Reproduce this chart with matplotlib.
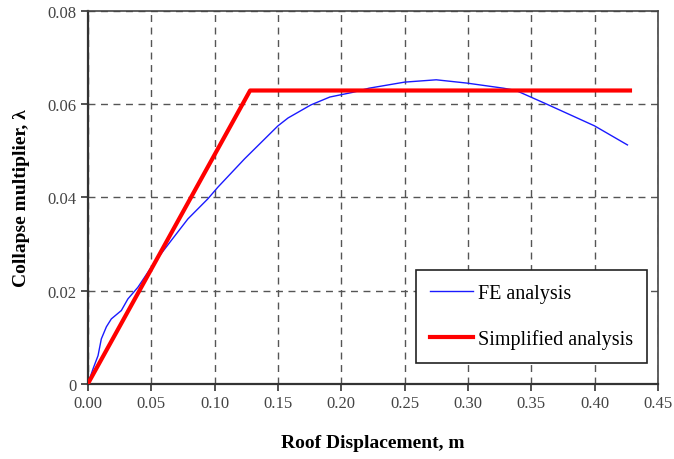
import numpy as np
import matplotlib.pyplot as plt
from matplotlib.ticker import FuncFormatter

# FE analysis curve
fe_x = [0.0, 0.004, 0.0079, 0.0105, 0.0145, 0.0184, 0.0263, 0.0315, 0.0394, 0.0526,
        0.0650, 0.0789, 0.0946, 0.1025, 0.1236, 0.150, 0.158, 0.176, 0.191, 0.209,
        0.222, 0.250, 0.275, 0.299, 0.328, 0.338, 0.362, 0.400, 0.426]
fe_y = [0.0, 0.0032, 0.0060, 0.0096, 0.0122, 0.0139, 0.0157, 0.0182, 0.0207, 0.0261,
        0.0305, 0.0354, 0.0397, 0.0422, 0.0483, 0.0554, 0.0571, 0.0599, 0.0616, 0.0626,
        0.0635, 0.0648, 0.0653, 0.0646, 0.0635, 0.0630, 0.0601, 0.0554, 0.0513]

# simplified (bilinear) analysis
simp_x = [0.0, 0.128, 0.428]
simp_y = [0.0, 0.063, 0.063]

xticks = [0.0, 0.05, 0.10, 0.15, 0.20, 0.25, 0.30, 0.35, 0.40, 0.45]
yticks = [0.0, 0.02, 0.04, 0.06, 0.08]

plt.rcParams['font.family'] = ['Liberation Serif', 'DejaVu Serif']

fig = plt.figure(figsize=(6.74, 4.60), dpi=100)
ax = fig.add_axes([0.1306, 0.164, 0.8454, 0.809])

ax.plot(fe_x, fe_y, color='#1a1aff', lw=1.0, label='FE analysis', zorder=3)
ax.plot(simp_x, simp_y, color='#ff0000', lw=3.0, label='Simplified analysis', zorder=4)

ax.set_xlim(0, 0.45)
ax.set_ylim(0, 0.08)
ax.set_xticks(xticks)
ax.set_yticks(yticks)
ax.xaxis.set_major_formatter(FuncFormatter(lambda v, p: '%.2f' % v))
ax.yaxis.set_major_formatter(FuncFormatter(lambda v, p: '0' if v == 0 else '%.2f' % v))
ax.tick_params(direction='out', length=5, width=1.2, labelsize=12, colors='#333333',
               labelcolor='#444444')
ax.grid(True, color='#555555', ls=(0, (5, 4)), lw=1.0)
ax.set_axisbelow(True)

for s in ['left', 'bottom']:
    ax.spines[s].set_linewidth(1.6)
    ax.spines[s].set_color('#333333')
for s in ['top', 'right']:
    ax.spines[s].set_linewidth(1.2)
    ax.spines[s].set_color('#444444')

ax.set_xlabel('Roof Displacement, m', fontsize=14, fontweight='bold', labelpad=16)
ax.set_ylabel('Collapse multiplier, λ', fontsize=14, fontweight='bold', labelpad=12)

leg = ax.legend(loc='lower right', bbox_to_anchor=(0.981, 0.055), borderaxespad=0,
                fontsize=14.5, frameon=True, fancybox=False, edgecolor='#222222',
                framealpha=1, handlelength=2.1, labelspacing=1.3, borderpad=0.7,
                handletextpad=0.25)
leg.get_frame().set_linewidth(1.2)

fig.savefig('out.png', dpi=100)
